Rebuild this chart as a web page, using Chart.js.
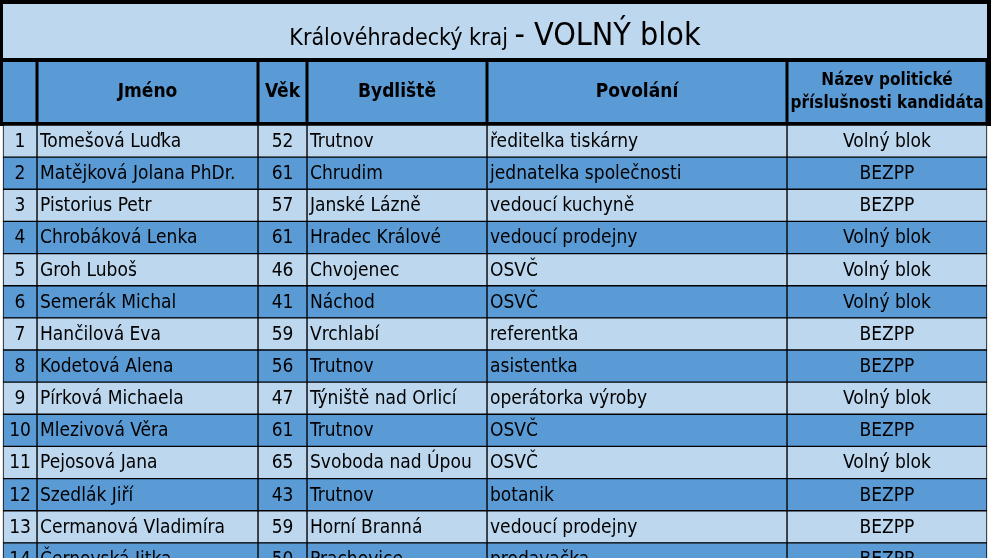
<!DOCTYPE html>
<html><head><meta charset="utf-8">
<script src="https://cdn.jsdelivr.net/npm/chart.js@4/dist/chart.umd.min.js"></script>
<style>
body{margin:0;background:#fff;overflow:hidden;width:991px;height:558px}
#wrap{width:991px;height:590px;position:relative}
</style></head><body>
<div id="wrap"><canvas id="grafico"></canvas></div>
<script>
const cisla = ["1","2","3","4","5","6","7","8","9","10","11","12","13","14"];
const jmena = ["Tomešová Luďka","Matějková Jolana PhDr.","Pistorius Petr","Chrobáková Lenka","Groh Luboš","Semerák Michal","Hančilová Eva","Kodetová Alena","Pírková Michaela","Mlezivová Věra","Pejosová Jana","Szedlák Jiří","Cermanová Vladimíra","Černovská Jitka"];
const veky = [52,61,57,61,46,41,59,56,47,61,65,43,59,50];
const bydliste = ["Trutnov","Chrudim","Janské Lázně","Hradec Králové","Chvojenec","Náchod","Vrchlabí","Trutnov","Týniště nad Orlicí","Trutnov","Svoboda nad Úpou","Trutnov","Horní Branná","Prachovice"];
const povolani = ["ředitelka tiskárny","jednatelka společnosti","vedoucí kuchyně","vedoucí prodejny","OSVČ","OSVČ","referentka","asistentka","operátorka výroby","OSVČ","OSVČ","botanik","vedoucí prodejny","prodavačka"];
const prislusnost = ["Volný blok","BEZPP","BEZPP","Volný blok","Volný blok","Volný blok","BEZPP","BEZPP","Volný blok","BEZPP","Volný blok","BEZPP","BEZPP","BEZPP"];
const hlavicky = ["", "Jméno", "Věk", "Bydliště", "Povolání", "Název politické\npříslušnosti kandidáta"];

const sloupce = [3, 37, 258, 307, 487, 787, 987];
const zarovnani = ["center","left","center","left","left","center"];
const svetla = "#bdd7ee", tmava = "#5b9bd5";
const pismo = "'Liberation Sans Narrow', 'DejaVu Sans Condensed', 'Open Sans', sans-serif";

const texty = [cisla, jmena, veky.map(String), bydliste, povolani, prislusnost];
const barvy = cisla.map((_, i) => i % 2 === 0 ? svetla : tmava);

const datasets = texty.map((_, c) => ({
  data: cisla.map(() => [sloupce[c], sloupce[c + 1]]),
  backgroundColor: barvy,
  borderColor: "#000",
  borderWidth: 1,
  borderSkipped: false,
  grouped: false,
  barPercentage: 1,
  categoryPercentage: 1
}));

const tabulka = {
  id: "tabulka",
  beforeDatasetsDraw(chart) {
    const ctx = chart.ctx, x = chart.scales.x;
    ctx.save();
    ctx.fillStyle = "#000";
    ctx.fillRect(0, 0, chart.width, 126);
    const L = x.getPixelForValue(sloupce[0]), R = x.getPixelForValue(sloupce[6]);
    ctx.fillStyle = svetla;
    ctx.fillRect(L, 4, R - L, 54);
    // nadpis
    ctx.textBaseline = "alphabetic";
    ctx.fillStyle = "#000";
    ctx.font = "23px " + pismo;
    const a = "Královéhradecký kraj ", b = "- VOLNÝ blok";
    const wa = ctx.measureText(a).width;
    ctx.font = "32px " + pismo;
    const wb = ctx.measureText(b).width;
    const sx = (L + R) / 2 - (wa + wb) / 2;
    ctx.font = "23px " + pismo;
    ctx.textAlign = "left";
    ctx.fillText(a, sx, 45);
    ctx.font = "32px " + pismo;
    ctx.fillText(b, sx + wa, 45);
    // hlavicka
    hlavicky.forEach((h, c) => {
      const x0 = x.getPixelForValue(sloupce[c]) + (c === 0 ? 0 : 1.5);
      const x1 = x.getPixelForValue(sloupce[c + 1]) - 1.5;
      ctx.fillStyle = tmava;
      ctx.fillRect(x0, 62, x1 - x0, 60);
      ctx.fillStyle = "#000";
      ctx.font = (c === 5 ? "bold 17px " : "bold 19px ") + pismo;
      ctx.textAlign = "center";
      ctx.textBaseline = "middle";
      const lines = h.split("\n");
      lines.forEach((t, k) => ctx.fillText(t, (x0 + x1) / 2, 92 + (k - (lines.length - 1) / 2) * 23));
    });
    ctx.restore();
  },
  afterDatasetsDraw(chart) {
    const ctx = chart.ctx;
    ctx.save();
    ctx.fillStyle = "#000";
    ctx.font = "19px " + pismo;
    ctx.textBaseline = "middle";
    texty.forEach((sl, c) => {
      const meta = chart.getDatasetMeta(c);
      sl.forEach((t, r) => {
        const el = meta.data[r];
        const x0 = Math.min(el.x, el.base), x1 = Math.max(el.x, el.base);
        ctx.textAlign = zarovnani[c];
        const tx = zarovnani[c] === "left" ? x0 + 3 : (x0 + x1) / 2;
        ctx.fillText(t, tx, el.y + 1);
      });
    });
    ctx.restore();
  }
};

new Chart(document.getElementById("grafico"), {
  type: "bar",
  data: { labels: cisla, datasets },
  options: {
    indexAxis: "y",
    responsive: true,
    maintainAspectRatio: false,
    animation: false,
    layout: { padding: { top: 125, bottom: 15, left: 0, right: 0 } },
    plugins: { legend: { display: false }, tooltip: { enabled: false } },
    scales: {
      x: { type: "linear", min: 0, max: 991, display: false },
      y: { display: false }
    }
  },
  plugins: [tabulka]
});
</script>
</body></html>
